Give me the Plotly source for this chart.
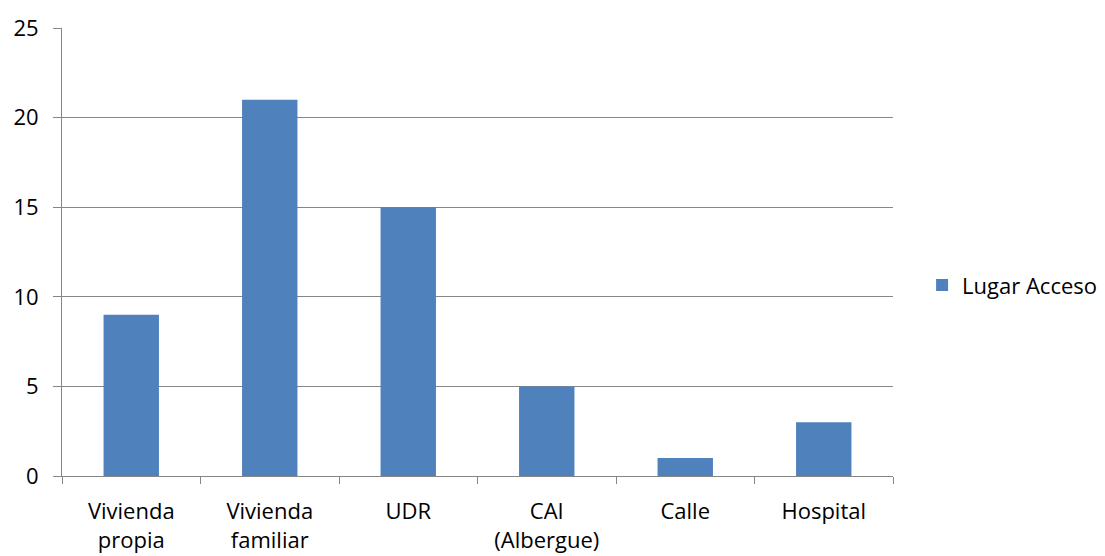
import plotly.graph_objects as go

categories = ["Vivienda<br>propia", "Vivienda<br>familiar", "UDR", "CAI<br>(Albergue)", "Calle", "Hospital"]
values = [9, 21, 15, 5, 1, 3]
series_name = "Lugar Acceso"
y_ticks = [0, 5, 10, 15, 20, 25]

fig = go.Figure()
fig.add_trace(go.Bar(
    x=categories, y=values, name=series_name,
    marker=dict(color="#4F81BD", line=dict(width=0)),
    width=0.4, showlegend=True,
))

font = dict(family="Open Sans, Liberation Sans, sans-serif", size=22, color="#000000")

fig.update_layout(
    width=1097, height=548,
    margin=dict(l=54, r=212, t=20, b=80, autoexpand=False),
    paper_bgcolor="white", plot_bgcolor="white",
    font=font,
    showlegend=True,
    legend=dict(x=1.035, y=0.426, xanchor="left", yanchor="middle",
                font=font, bgcolor="rgba(0,0,0,0)"),
    xaxis=dict(
        type="category", tickson="boundaries", ticks="outside", ticklen=7,
        tickcolor="#868686", showline=True, linecolor="#868686", linewidth=1,
        showgrid=False, tickfont=font, range=[-0.5, 5.5], ticklabelstandoff=16,
        automargin=False,
    ),
    yaxis=dict(
        range=[0, 25], tickvals=y_ticks, ticks="outside", ticklen=8,
        tickcolor="#868686", showline=True, linecolor="#868686", linewidth=1,
        showgrid=True, gridcolor="#868686", gridwidth=1, zeroline=False,
        tickfont=font, ticklabelstandoff=10, automargin=False,
    ),
)

fig.write_html("out.html")
